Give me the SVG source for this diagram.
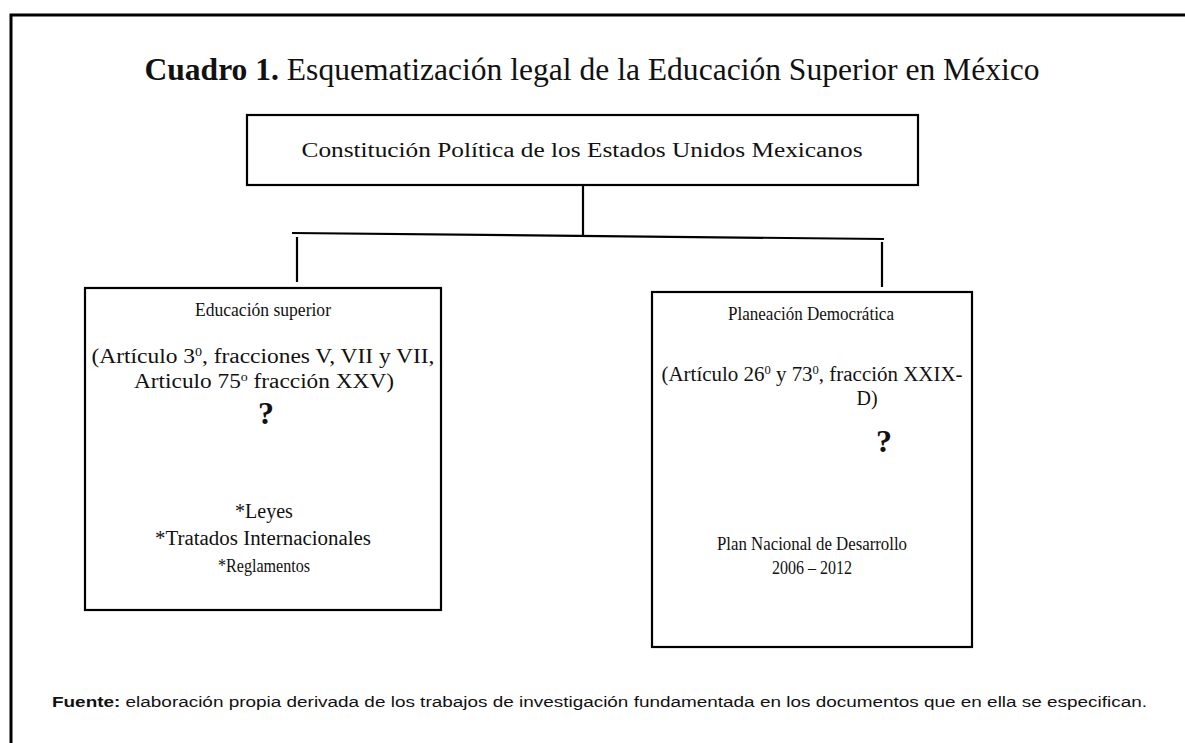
<svg xmlns="http://www.w3.org/2000/svg" width="1185" height="743" viewBox="0 0 1185 743">
<style>
.box{fill:#fff;stroke:#000;stroke-width:2.2}
.t{font-family:"Liberation Serif","DejaVu Serif",serif;font-size:20px;fill:#111;text-anchor:middle}
.s{font-size:19px}
.q{font-family:"Liberation Serif","DejaVu Serif",serif;font-size:32px;font-weight:bold;fill:#111;text-anchor:middle}
.c{stroke:#000;stroke-width:2.2;fill:none}
.sup{font-size:12px}
</style>
<rect width="1185" height="743" fill="#fff"/>
<path d="M11,743 V15 H1185" fill="none" stroke="#000" stroke-width="3"/>
<text x="592" y="80" font-family="'Liberation Serif','DejaVu Serif',serif" font-size="31" fill="#111" text-anchor="middle" textLength="895" lengthAdjust="spacingAndGlyphs"><tspan font-weight="bold">Cuadro 1.</tspan> Esquematización legal de la Educación Superior en México</text>
<g id="connectors">
<line class="c" x1="583" y1="185" x2="583" y2="235"/>
<line class="c" x1="292" y1="233" x2="884" y2="239" stroke-width="2.6"/>
<line class="c" x1="297" y1="237" x2="297" y2="282"/>
<line class="c" x1="882" y1="242" x2="882" y2="287"/>
</g>
<g id="constitucion">
<rect class="box" x="247" y="115" width="671" height="70"/>
<text class="t" x="582" y="157" textLength="561" lengthAdjust="spacingAndGlyphs">Constitución Política de los Estados Unidos Mexicanos</text>
</g>
<g id="educacion">
<rect class="box" x="85" y="288" width="356" height="322"/>
<text class="t s" x="263" y="316" textLength="136" lengthAdjust="spacingAndGlyphs">Educación superior</text>
<text class="t" x="263" y="363" textLength="343" lengthAdjust="spacingAndGlyphs">(Artículo 3<tspan class="sup" baseline-shift="super">0</tspan>, fracciones V, VII y VII,</text>
<text class="t" x="264" y="388" textLength="260" lengthAdjust="spacingAndGlyphs">Articulo 75<tspan class="sup" baseline-shift="super">o</tspan> fracción XXV)</text>
<text class="q" x="266" y="424">?</text>
<text class="t" x="264" y="518">*Leyes</text>
<text class="t" x="263" y="545" textLength="216" lengthAdjust="spacingAndGlyphs">*Tratados Internacionales</text>
<text class="t s" x="264" y="572" textLength="92" lengthAdjust="spacingAndGlyphs">*Reglamentos</text>
</g>
<g id="planeacion">
<rect class="box" x="652" y="292" width="320" height="355"/>
<text class="t s" x="811" y="320" textLength="166" lengthAdjust="spacingAndGlyphs">Planeación Democrática</text>
<text class="t" x="812" y="381" textLength="301" lengthAdjust="spacingAndGlyphs">(Artículo 26<tspan class="sup" baseline-shift="super">0</tspan> y 73<tspan class="sup" baseline-shift="super">0</tspan>, fracción XXIX-</text>
<text class="t" x="867" y="405">D)</text>
<text class="q" x="884" y="452">?</text>
<text class="t s" x="812" y="550" textLength="190" lengthAdjust="spacingAndGlyphs">Plan Nacional de Desarrollo</text>
<text class="t s" x="812" y="574" textLength="80" lengthAdjust="spacingAndGlyphs">2006 – 2012</text>
</g>
<text x="52" y="707" font-family="'Liberation Sans','DejaVu Sans',sans-serif" font-size="14" fill="#111" textLength="1095" lengthAdjust="spacingAndGlyphs"><tspan font-weight="bold">Fuente:</tspan> elaboración propia derivada de los trabajos de investigación fundamentada en los documentos que en ella se especifican.</text>
</svg>
